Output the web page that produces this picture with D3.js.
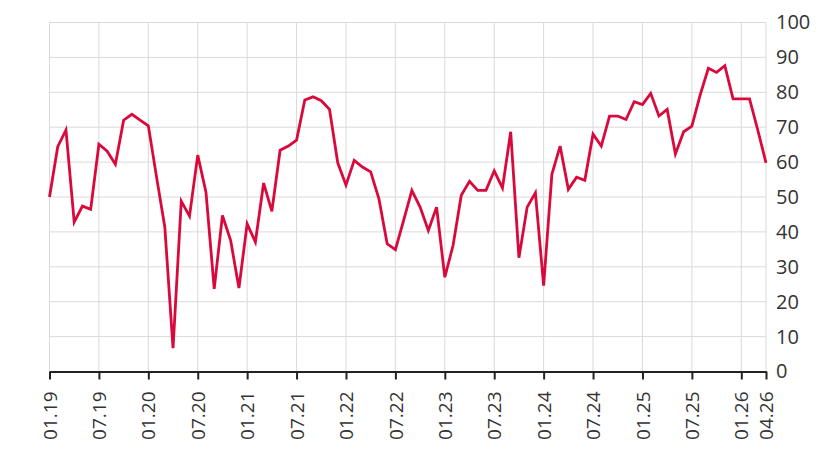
<!DOCTYPE html>
<html>
<head>
<meta charset="utf-8">
<script src="https://cdn.jsdelivr.net/npm/d3@7"></script>
<style>
    html, body { margin: 0; padding: 0; background: #fff; }
    svg { display: block; }
    svg text { font-family: "Open Sans", sans-serif; }
    .grid line { stroke: #dadada; stroke-width: 1; }
    .tick text { fill: #333; }
</style>
</head>
<body>
<svg id="chart" width="820" height="457"></svg>
<script>
// monthly values, 01.2019 .. 04.2026
const values = [
    50, 64.4, 69.2, 42.8, 47.4, 46.5, 65.1, 63.1, 59.4, 72.0, 73.7, 72.0,
    70.4, 55.7, 41.4, 6.7, 48.8, 44.5, 62.0, 51.4, 23.7, 44.7, 37.5, 23.9,
    42.3, 37.1, 54.0, 45.9, 63.4, 64.6, 66.3, 77.8, 78.7, 77.6, 75.1, 59.8,
    53.4, 60.5, 58.6, 57.2, 49.5, 36.6, 34.9, 43.3, 51.9, 47.1, 40.4, 47.1,
    27.0, 36.1, 50.5, 54.5, 51.9, 51.9, 57.5, 52.6, 68.7, 32.6, 47.1, 51.2,
    24.6, 56.5, 64.6, 52.2, 55.7, 54.8, 68.0, 64.6, 73.2, 73.2, 72.2, 77.3,
    76.5, 79.7, 73.2, 75.1, 62.3, 68.7, 70.3, 79.2, 86.9, 85.7, 87.6, 78.1,
    78.1, 78.1, 69.2, 59.8
];

// x tick positions (month index) and their labels
const xTickIdx = [0, 6, 12, 18, 24, 30, 36, 42, 48, 54, 60, 66, 72, 78, 84, 87];
const xTickLabels = ['01.19', '07.19', '01.20', '07.20', '01.21', '07.21', '01.22', '07.22',
    '01.23', '07.23', '01.24', '07.24', '01.25', '07.25', '01.26', '04.26'];
const yTicks = [0, 10, 20, 30, 40, 50, 60, 70, 80, 90, 100];

const margin = { left: 49.5, right: 54, top: 22.5, bottom: 85.5 };
const width = 820, height = 457;

const svg = d3.select('#chart');

const x = d3.scaleLinear()
    .domain([0, values.length - 1])
    .range([margin.left, width - margin.right]);

const y = d3.scaleLinear()
    .domain([0, 100])
    .range([height - margin.bottom, margin.top]);

// --- grid ---
const grid = svg.append('g').attr('class', 'grid');
grid.selectAll('.h')
    .data(yTicks)
    .enter().append('line')
    .attr('x1', x(0)).attr('x2', x(values.length - 1))
    .attr('y1', d => y(d)).attr('y2', d => y(d));
grid.selectAll('.v')
    .data(xTickIdx)
    .enter().append('line')
    .attr('x1', d => x(d)).attr('x2', d => x(d))
    .attr('y1', y(100)).attr('y2', y(0));

// --- line ---
const line = d3.line()
    .x((d, i) => x(i))
    .y(d => y(d));

svg.append('path')
    .datum(values)
    .attr('fill', 'none')
    .attr('stroke', '#d9093c')
    .attr('stroke-width', 2.8)
    .attr('d', line);

// --- bottom axis ---
const xAxis = d3.axisBottom(x)
    .tickValues(xTickIdx)
    .tickFormat((d, i) => xTickLabels[i])
    .tickSize(8)
    .tickSizeOuter(0);

const gx = svg.append('g')
    .attr('transform', `translate(0,${y(0)})`)
    .call(xAxis);
gx.select('.domain').attr('stroke', '#222').attr('stroke-width', 2);
gx.selectAll('.tick line').attr('stroke', '#222').attr('stroke-width', 2);
gx.selectAll('.tick text')
    .attr('font-size', 19)
    .attr('transform', 'rotate(-90)')
    .attr('text-anchor', 'end')
    .attr('x', -20)
    .attr('y', 0)
    .attr('dy', '0.35em');

// --- right axis ---
const yAxis = d3.axisRight(y)
    .tickValues(yTicks)
    .tickSize(0)
    .tickPadding(10);

const gy = svg.append('g')
    .attr('transform', `translate(${width - margin.right},0)`)
    .call(yAxis);
gy.select('.domain').remove();
gy.selectAll('.tick text')
    .attr('font-size', 20);
</script>
</body>
</html>
